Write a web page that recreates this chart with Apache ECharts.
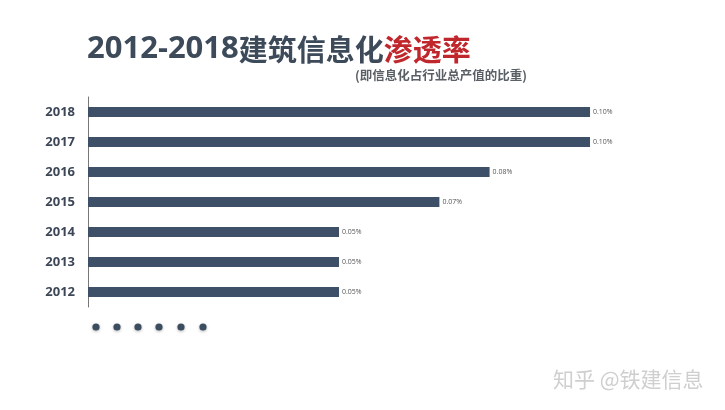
<!DOCTYPE html>
<html><head><meta charset="utf-8">
<script src="https://cdn.jsdelivr.net/npm/echarts@6/dist/echarts.min.js"></script>
<style>html,body{margin:0;padding:0;background:#fff}#c{width:725px;height:410px}</style>
</head><body><div id="c"></div>
<script>
var years = ['2012','2013','2014','2015','2016','2017','2018'];
var values = [0.05, 0.05, 0.05, 0.07, 0.08, 0.10, 0.10];
var titleNum = '2012-2018';
var titleMain = '建筑信息化';
var titleRed = '渗透率';
var subtitle = '(即信息化占行业总产值的比重)';
var watermark = '知乎 @铁建信息';

var chart = echarts.init(document.getElementById('c'));
var dots = [];
var dotX = [96, 117, 138, 159, 181, 203];
dotX.forEach(function (x) {
  dots.push({type: 'circle', shape: {cx: x, cy: 327, r: 3.6}, style: {fill: '#3d4d60', shadowBlur: 3, shadowColor: 'rgba(0,0,0,0.3)', shadowOffsetY: 1}});
});
dots.push({type: 'text', left: 553, top: 369, style: {text: watermark, fill: '#cfcfcf', font: '21px "Noto Sans CJK SC"'}});
dots.push({type: 'text', left: 355, top: 69, style: {text: subtitle, fill: '#5a5f66', font: 'bold 12.5px "Noto Sans CJK SC"'}});

chart.setOption({
  backgroundColor: '#fff',
  animation: false,
  title: {
    text: '{n|' + titleNum + '}{a|' + titleMain + '}{b|' + titleRed + '}',
    left: 82, top: 29,
    textStyle: {
      rich: {
        n: {fontSize: 31, fontWeight: 'bold', color: '#3d4a5a', fontFamily: '"Open Sans"'},
        a: {fontSize: 29, fontWeight: 'bold', color: '#3d4a5a', fontFamily: '"Noto Sans CJK SC"'},
        b: {fontSize: 29, fontWeight: 'bold', color: '#c0272d', fontFamily: '"Noto Sans CJK SC"'}
      }
    }
  },
  grid: {left: 88, top: 97, height: 210, right: 135},
  xAxis: {type: 'value', min: 0, max: 0.1, show: false},
  yAxis: {
    type: 'category', data: years,
    axisLine: {lineStyle: {color: '#777', width: 1}},
    axisTick: {show: false},
    axisLabel: {fontSize: 13, fontWeight: 'bold', color: '#3d4757', margin: 13, fontFamily: '"Open Sans","Noto Sans"'}
  },
  series: [{
    type: 'bar', data: values, barWidth: 10,
    itemStyle: {color: '#3e5068'},
    label: {show: true, position: 'right', distance: 3, fontSize: 7, color: '#555',
      fontFamily: '"Open Sans"',
      formatter: function (p) { return p.value.toFixed(2) + '%'; }}
  }],
  graphic: dots
});
</script></body></html>
